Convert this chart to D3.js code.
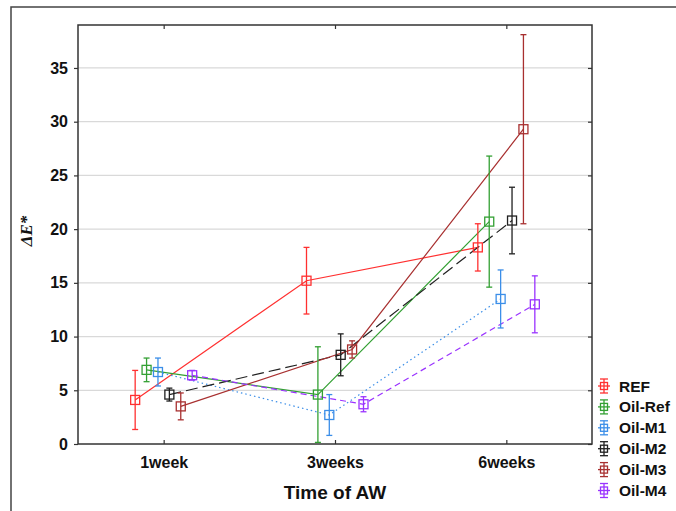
<!DOCTYPE html>
<html>
<head>
<meta charset="utf-8">
<script src="https://cdn.jsdelivr.net/npm/d3@7"></script>
<style>
  html, body { margin: 0; padding: 0; background: #fff; }
  svg { display: block; }
</style>
</head>
<body>
<div id="chart"></div>
<script>
// Colour difference ΔE* after artificial weathering, mean ± error per sample
const categories = ["1week", "3weeks", "6weeks"];
const seriesNames = ["REF", "Oil-Ref", "Oil-M1", "Oil-M2", "Oil-M3", "Oil-M4"];
const seriesColors = ["#ff3030", "#33a033", "#3b8ee8", "#202020", "#a83030", "#9a33ff"];
const seriesDash = [null, null, "1.5,3", "12,5", null, "6,4"];

const meanREF   = [4.1, 15.2, 18.3];
const meanOilRef = [6.9, 4.6, 20.7];
const meanOilM1 = [6.7, 2.7, 13.5];
const meanOilM2 = [4.6, 8.3, 20.8];
const meanOilM3 = [3.5, 8.8, 29.3];
const meanOilM4 = [6.4, 3.7, 13.0];

const errREF    = [2.75, 3.1, 2.2];
const errOilRef = [1.1, 4.45, 6.1];
const errOilM1  = [1.3, 1.9, 2.7];
const errOilM2  = [0.6, 1.95, 3.1];
const errOilM3  = [1.25, 0.8, 8.8];
const errOilM4  = [0.45, 0.7, 2.65];

const yTicks = [0, 5, 10, 15, 20, 25, 30, 35];

const means = [meanREF, meanOilRef, meanOilM1, meanOilM2, meanOilM3, meanOilM4];
const errs = [errREF, errOilRef, errOilM1, errOilM2, errOilM3, errOilM4];

const W = 676, H = 511;
const plot = { left: 78, top: 25, right: 592, bottom: 444 };

const svg = d3.select("#chart").append("svg")
  .attr("width", W).attr("height", H);

// outer frame
svg.append("rect")
  .attr("x", 11).attr("y", 7).attr("width", W + 10).attr("height", H + 10)
  .attr("fill", "none").attr("stroke", "#444").attr("stroke-width", 1.5);

const x = d3.scalePoint().domain(categories)
  .range([plot.left, plot.right]).padding(0.5);
const y = d3.scaleLinear().domain([0, 39]).range([plot.bottom, plot.top]);

const offsetStep = 11.4;
const xOf = (si, ci) => x(categories[ci]) + (si - 2.5) * offsetStep;

// horizontal grid
svg.append("g").selectAll("line")
  .data(yTicks.filter(t => t > 0)).join("line")
  .attr("x1", plot.left).attr("x2", plot.right)
  .attr("y1", d => y(d)).attr("y2", d => y(d))
  .attr("stroke", "#d9d9d9").attr("stroke-width", 1.2);

// left axis with outward ticks
const yAxis = svg.append("g")
  .attr("transform", `translate(${plot.left},0)`)
  .call(d3.axisLeft(y).tickValues(yTicks).tickSize(4).tickPadding(6));
yAxis.select(".domain").remove();
yAxis.selectAll("line").attr("stroke", "#333").attr("stroke-width", 1.2);
yAxis.selectAll("text")
  .attr("font-family", "'Liberation Sans', Arial, sans-serif")
  .attr("font-weight", "bold").attr("font-size", "16px").attr("fill", "#111");

// right-side inner ticks
const yAxisR = svg.append("g")
  .attr("transform", `translate(${plot.right},0)`)
  .call(d3.axisLeft(y).tickValues(yTicks).tickSize(4).tickFormat(""));
yAxisR.select(".domain").remove();
yAxisR.selectAll("line").attr("stroke", "#333").attr("stroke-width", 1.2)
  .attr("x2", -4);

// bottom axis with inner ticks
const xAxis = svg.append("g")
  .attr("transform", `translate(0,${plot.bottom})`)
  .call(d3.axisBottom(x).tickSize(-4).tickPadding(13));
xAxis.select(".domain").remove();
xAxis.selectAll("line").attr("stroke", "#333").attr("stroke-width", 1.2);
xAxis.selectAll("text")
  .attr("font-family", "'Liberation Sans', Arial, sans-serif")
  .attr("font-weight", "bold").attr("font-size", "16px").attr("fill", "#111");

// top inner ticks
const xAxisT = svg.append("g")
  .attr("transform", `translate(0,${plot.top})`)
  .call(d3.axisTop(x).tickSize(-4).tickFormat(""));
xAxisT.select(".domain").remove();
xAxisT.selectAll("line").attr("stroke", "#333").attr("stroke-width", 1.2);

// plot border
svg.append("rect")
  .attr("x", plot.left).attr("y", plot.top)
  .attr("width", plot.right - plot.left).attr("height", plot.bottom - plot.top)
  .attr("fill", "none").attr("stroke", "#333").attr("stroke-width", 1.5);

// axis titles
svg.append("text")
  .attr("x", (plot.left + plot.right) / 2).attr("y", 499)
  .attr("text-anchor", "middle")
  .attr("font-family", "'Liberation Sans', Arial, sans-serif")
  .attr("font-weight", "bold").attr("font-size", "19px").attr("fill", "#111")
  .text("Time of AW");

svg.append("text")
  .attr("transform", "translate(32,231) rotate(-90)")
  .attr("text-anchor", "middle")
  .attr("font-family", "'Liberation Serif', 'Times New Roman', serif")
  .attr("font-style", "italic").attr("font-weight", "bold")
  .attr("font-size", "17px").attr("fill", "#111")
  .text("ΔE*");

// connecting lines
const line = d3.line().x(d => d[0]).y(d => d[1]);
seriesNames.forEach((name, si) => {
  const pts = means[si].map((v, ci) => [xOf(si, ci), y(v)]);
  svg.append("path")
    .attr("d", line(pts))
    .attr("fill", "none")
    .attr("stroke", seriesColors[si])
    .attr("stroke-width", 1.2)
    .attr("stroke-dasharray", seriesDash[si]);
});

// error bars and markers
const cap = 3;
const mk = 9;
seriesNames.forEach((name, si) => {
  const g = svg.append("g").attr("stroke", seriesColors[si]).attr("stroke-width", 1.3);
  means[si].forEach((v, ci) => {
    const cx = xOf(si, ci);
    const lo = y(v - errs[si][ci]), hi = y(v + errs[si][ci]);
    g.append("line").attr("x1", cx).attr("x2", cx).attr("y1", lo).attr("y2", hi);
    g.append("line").attr("x1", cx - cap).attr("x2", cx + cap).attr("y1", lo).attr("y2", lo);
    g.append("line").attr("x1", cx - cap).attr("x2", cx + cap).attr("y1", hi).attr("y2", hi);
    g.append("rect")
      .attr("x", cx - mk / 2).attr("y", y(v) - mk / 2)
      .attr("width", mk).attr("height", mk)
      .attr("fill", "none");
  });
});

// legend
const legend = svg.append("g");
seriesNames.forEach((name, si) => {
  const cy = 386 + si * 20.9;
  const cx = 604;
  const g = legend.append("g").attr("stroke", seriesColors[si]).attr("stroke-width", 1.3);
  g.append("line").attr("x1", cx).attr("x2", cx).attr("y1", cy - 7).attr("y2", cy + 7);
  g.append("line").attr("x1", cx - 4).attr("x2", cx + 4).attr("y1", cy - 7).attr("y2", cy - 7);
  g.append("line").attr("x1", cx - 4).attr("x2", cx + 4).attr("y1", cy + 7).attr("y2", cy + 7);
  g.append("rect").attr("x", cx - 3.5).attr("y", cy - 3.5).attr("width", 7).attr("height", 7)
    .attr("fill", "none");
  g.append("line").attr("x1", cx - 6).attr("x2", cx + 6).attr("y1", cy).attr("y2", cy);
  legend.append("text")
    .attr("x", 619).attr("y", cy + 5.5)
    .attr("font-family", "'Liberation Sans', Arial, sans-serif")
    .attr("font-weight", "bold").attr("font-size", "15.5px").attr("fill", "#111")
    .text(name);
});
</script>
</body>
</html>
